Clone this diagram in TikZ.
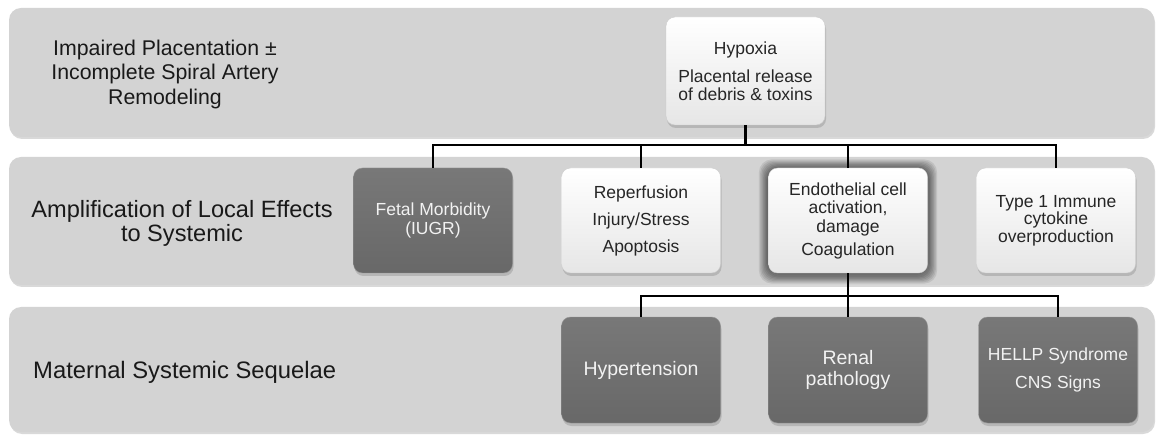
\documentclass[tikz,border=0pt]{standalone}
\usepackage{fontspec}
\setmainfont{Liberation Sans}
\usetikzlibrary{shadows}
\definecolor{bandgray}{RGB}{211,211,211}
\definecolor{boxdark}{RGB}{104,104,104}
\definecolor{boxdarktop}{RGB}{120,120,120}
\definecolor{boxedge}{RGB}{150,150,150}
\definecolor{boxlight}{RGB}{230,230,230}
\definecolor{textdark}{RGB}{38,38,38}
\newcommand{\widthbox}{159pt}
\newcommand{\heightbox}{106pt}
\newcommand{\widthband}{1145pt}
\newcommand{\boxfont}{\fontsize{17.5}{18.5}\selectfont}
\tikzset{
    band/.style={fill=bandgray, rounded corners=12pt, minimum width=\widthband,
        drop shadow={opacity=0.3, shadow xshift=1pt, shadow yshift=-2pt}},
    rowlabel/.style={align=center, inner sep=0pt, text=black!90},
    common/.style={rounded corners=9pt, minimum width=\widthbox, minimum height=\heightbox,
        align=center, inner sep=2pt},
    light/.style={common, draw=boxedge!50, top color=white, bottom color=boxlight,
        text=textdark, font=\boxfont,
        drop shadow={opacity=0.35, shadow xshift=1pt, shadow yshift=-3pt}},
    dark/.style={common, draw=boxedge, top color=boxdarktop, bottom color=boxdark,
        text=white!95!black, font=\boxfont,
        drop shadow={opacity=0.35, shadow xshift=1pt, shadow yshift=-3pt}},
    glow/.style={common, fill=black, fill opacity=0.085, rounded corners=13pt},
    conn/.style={line width=2.4pt, black}
}
\begin{document}
\begin{tikzpicture}[x=1pt, y=-1pt]
    \useasboundingbox (0,0) rectangle (1158,435);

    \node[band, minimum height=129pt] (bandA) at (581.5,72.5) {};
    \node[band, minimum height=128pt] (bandB) at (581.5,221) {};
    \node[band, minimum height=125pt] (bandC) at (581.5,369.5) {};

    \node[rowlabel, font=\fontsize{21.3}{24.5}\selectfont] (labelA) at (165,74)
        {Impaired Placentation ±\\Incomplete Spiral Artery\\Remodeling};
    \node[rowlabel, font=\fontsize{23.6}{24}\selectfont] (labelB) at (182,223)
        {Amplification of Local Effects\\to Systemic};
    \node[rowlabel, font=\fontsize{23.8}{24}\selectfont, anchor=west] (labelC) at (33,372)
        {Maternal Systemic Sequelae};

    \node[light, minimum height=108pt] (hyp) at (745.5,71)
        {Hypoxia\\[9.5pt]Placental release\\of debris \& toxins};

    \node[dark, minimum height=105pt] (fetal) at (433,220.5) {Fetal Morbidity\\(IUGR)};
    \node[light, minimum height=105pt] (rep) at (641,220.5)
        {Reperfusion\\[8.5pt]Injury/Stress\\[8.5pt]Apoptosis};
    \foreach \g in {1,...,8}
        \node[glow, minimum width={159pt+2.4pt*\g}, minimum height={105pt+2.4pt*\g}]
            at (848,221.5) {};
    \node[light, minimum height=105pt] (endo) at (848,220.5)
        {Endothelial cell\\activation,\\damage\\[4.5pt]Coagulation};
    \node[light, minimum height=105pt, font=\fontsize{17.5}{17.5}\selectfont] (type1) at (1056,220.5)
        {Type 1 Immune\\cytokine\\overproduction};

    \node[dark, font=\fontsize{19.5}{21}\selectfont] (hyper) at (641,370) {Hypertension};
    \node[dark, font=\fontsize{19.5}{21}\selectfont] (renal) at (848,370) {Renal\\pathology};
    \node[dark] (hellp) at (1058,370) {HELLP Syndrome\\[9.5pt]CNS Signs};

    \coordinate (busA) at (0,145);
    \coordinate (busB) at (0,296);
    \foreach \b in {fetal,rep,endo,type1}
        \draw[conn] (hyp.south) -- (hyp.south |- busA) -| (\b.north);
    \foreach \b in {hyper,renal,hellp}
        \draw[conn] (endo.south) -- (endo.south |- busB) -| (\b.north);
\end{tikzpicture}
\end{document}
